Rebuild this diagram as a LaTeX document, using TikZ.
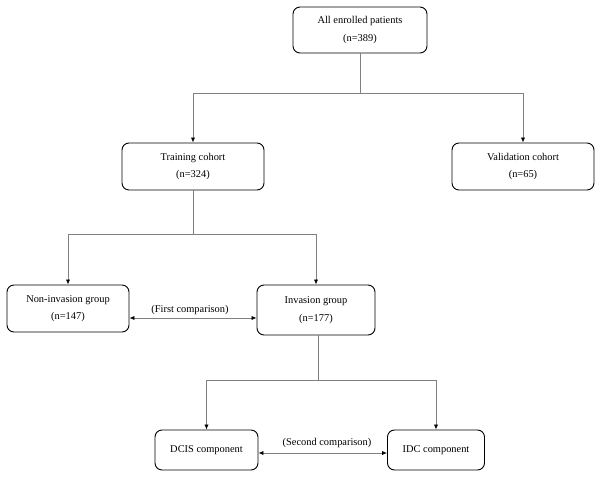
\documentclass[tikz,border=0pt]{standalone}
\usepackage{fontspec}
\setmainfont{Liberation Serif}
\usetikzlibrary{arrows.meta}
\begin{document}
\begin{tikzpicture}[x=1pt,y=-1pt,
  box/.style={draw=black,line width=0.9pt,rounded corners=7pt,inner sep=0pt,align=center,font=\fontsize{10.4}{17.5}\selectfont},
  conn/.style={draw=black!50,line width=0.8pt},
  arr/.style={conn,-{Latex[length=5pt,width=4.2pt,color=black]}},
  darr/.style={conn,{Latex[length=5pt,width=4.2pt,color=black]}-{Latex[length=5pt,width=4.2pt,color=black]}},
  lbl/.style={font=\fontsize{10.4}{12}\selectfont,inner sep=0pt}]
\useasboundingbox (0,0) rectangle (600,478);
\node[box,minimum width=134pt,minimum height=46pt] (top) at (360,30) {All enrolled patients\\(n=389)};
\node[box,minimum width=142pt,minimum height=47pt] (train) at (193,166.5) {Training cohort\\(n=324)};
\node[box,minimum width=142pt,minimum height=47pt] (val) at (523,166.5) {Validation cohort\\(n=65)};
\node[box,minimum width=122pt,minimum height=47pt] (non) at (68,308.5) {Non-invasion group\\(n=147)};
\node[box,minimum width=118pt,minimum height=50pt] (inv) at (316,310) {Invasion group\\(n=177)};
\node[box,minimum width=103pt,minimum height=40pt] (dcis) at (206.5,450) {DCIS component};
\node[box,minimum width=97pt,minimum height=40pt] (idc) at (436,450) {IDC component};
\coordinate (j1) at (top.south|-0,93.5);
\coordinate (j2) at (train.south|-0,234);
\coordinate (j3) at (318,380);
\draw[conn] (top.south) -- (j1);
\draw[arr] (j1) -| (train.north);
\draw[arr] (j1) -| (val.north);
\draw[conn] (train.south) -- (j2);
\draw[arr] (j2) -| (non.north);
\draw[arr] (j2) -| (inv.north);
\draw[conn] (inv.south-|j3) -- (j3);
\draw[arr] (j3) -| (dcis.north);
\draw[arr] (j3) -| (idc.north);
\draw[darr] (non.east|-0,318) -- (inv.west|-0,318);
\draw[darr] (dcis.east|-0,453) -- (idc.west|-0,453);
\node[lbl] (l1) at (190,310) {(First comparison)};
\node[lbl] (l2) at (327,443) {(Second comparison)};
\end{tikzpicture}
\end{document}
